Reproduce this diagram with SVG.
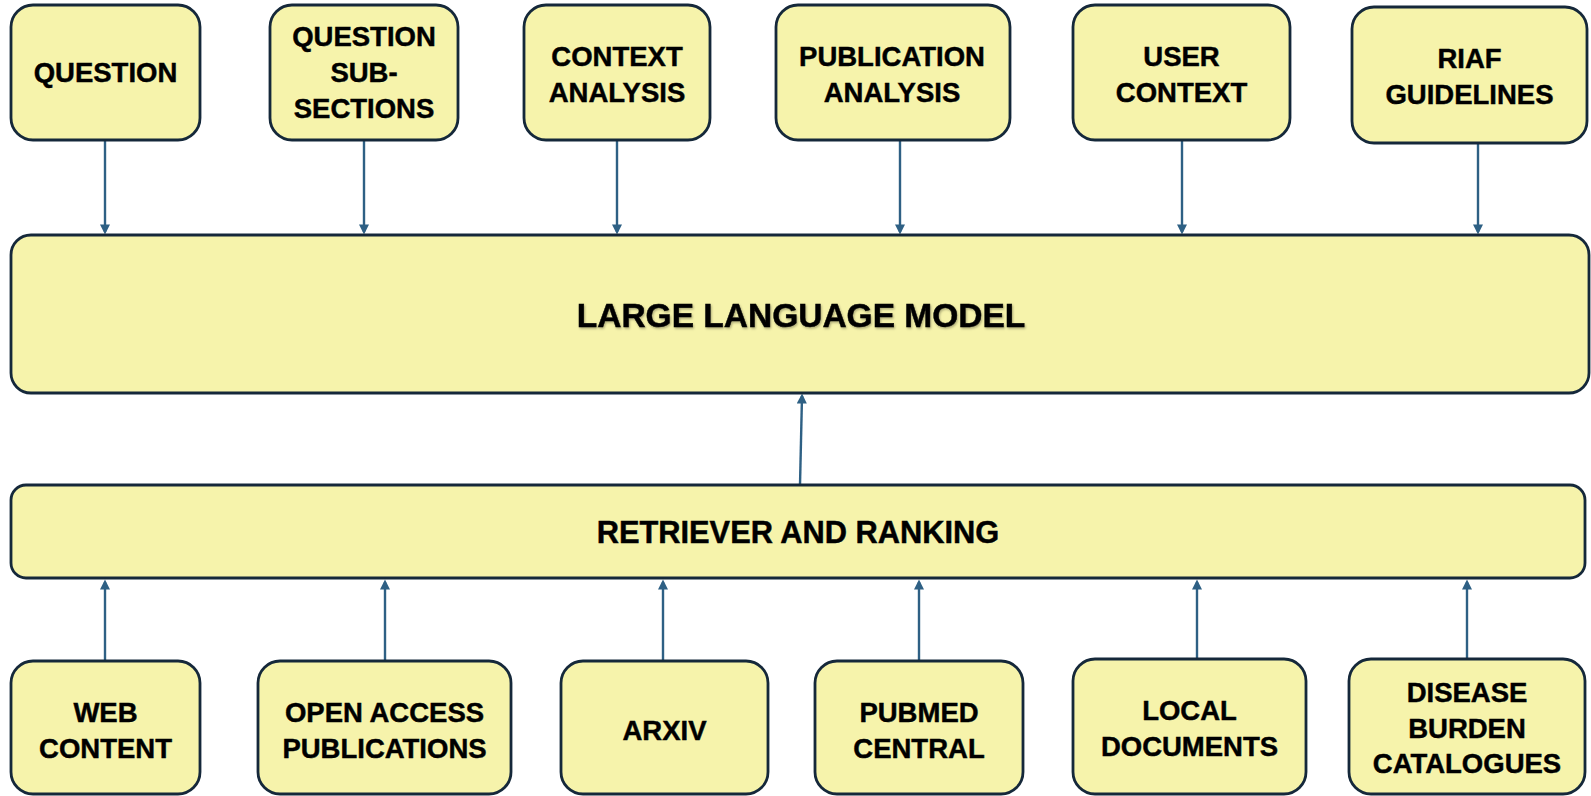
<svg xmlns="http://www.w3.org/2000/svg" width="1591" height="796" viewBox="0 0 1591 796">
<defs>
<style>
.box{fill:#f6f3ab;stroke:#15283a;stroke-width:2.8}
.lbl{font-family:"Liberation Sans",Arial,sans-serif;font-weight:bold;font-size:27.5px;fill:#000;stroke:#000;stroke-width:0.45;text-anchor:middle}
.big{font-size:33.5px}
.mid{font-size:30.8px}
.conn line{stroke:#2e6084;stroke-width:2.4;fill:none}
</style>
<marker id="ah" viewBox="0 0 10 10" refX="7.5" refY="5" markerWidth="12" markerHeight="10" markerUnits="userSpaceOnUse" orient="auto">
<path d="M0,0 L10,5 L0,10 z" fill="#2e6084"/>
</marker>
<filter id="sh" x="-5%" y="-30%" width="110%" height="160%">
<feDropShadow dx="1" dy="1.5" stdDeviation="1.2" flood-color="#000" flood-opacity="0.3"/>
</filter>
</defs>
<rect width="1591" height="796" fill="#ffffff"/>

<g class="conn" marker-end="url(#ah)">
<line x1="105" y1="140" x2="105" y2="232"/>
<line x1="364" y1="140" x2="364" y2="232"/>
<line x1="617" y1="140" x2="617" y2="232"/>
<line x1="900" y1="140" x2="900" y2="232"/>
<line x1="1182" y1="140" x2="1182" y2="232"/>
<line x1="1478" y1="143" x2="1478" y2="232"/>
<line x1="800" y1="485" x2="802" y2="396"/>
<line x1="105" y1="661" x2="105" y2="582"/>
<line x1="385" y1="661" x2="385" y2="582"/>
<line x1="663" y1="661" x2="663" y2="582"/>
<line x1="919" y1="661" x2="919" y2="582"/>
<line x1="1197" y1="659" x2="1197" y2="582"/>
<line x1="1467" y1="659" x2="1467" y2="582"/>
</g>

<g id="question">
<rect class="box" x="11" y="5" width="189" height="135" rx="22"/>
<text class="lbl" x="105.5" y="82">QUESTION</text>
</g>
<g id="question-subsections">
<rect class="box" x="270" y="5" width="188" height="135" rx="22"/>
<text class="lbl" x="364" y="45.5">QUESTION</text>
<text class="lbl" x="364" y="81.5">SUB-</text>
<text class="lbl" x="364" y="117.5">SECTIONS</text>
</g>
<g id="context-analysis">
<rect class="box" x="524" y="5" width="186" height="135" rx="22"/>
<text class="lbl" x="617" y="65.5">CONTEXT</text>
<text class="lbl" x="617" y="102">ANALYSIS</text>
</g>
<g id="publication-analysis">
<rect class="box" x="776" y="5" width="234" height="135" rx="22"/>
<text class="lbl" x="892" y="65.5">PUBLICATION</text>
<text class="lbl" x="892" y="102">ANALYSIS</text>
</g>
<g id="user-context">
<rect class="box" x="1073" y="5" width="217" height="135" rx="22"/>
<text class="lbl" x="1181.5" y="65.5">USER</text>
<text class="lbl" x="1181.5" y="102">CONTEXT</text>
</g>
<g id="riaf-guidelines">
<rect class="box" x="1352" y="7" width="235" height="136" rx="22"/>
<text class="lbl" x="1469.5" y="67.5">RIAF</text>
<text class="lbl" x="1469.5" y="103.5">GUIDELINES</text>
</g>

<g id="llm">
<rect class="box" x="11" y="235" width="1578" height="158" rx="20"/>
<text class="lbl big" x="801" y="326.5" filter="url(#sh)">LARGE LANGUAGE MODEL</text>
</g>
<g id="retriever">
<rect class="box" x="11" y="485" width="1574" height="93" rx="15"/>
<text class="lbl mid" x="798" y="542.5">RETRIEVER AND RANKING</text>
</g>

<g id="web-content">
<rect class="box" x="11" y="661" width="189" height="133" rx="22"/>
<text class="lbl" x="105.5" y="722">WEB</text>
<text class="lbl" x="105.5" y="758">CONTENT</text>
</g>
<g id="open-access">
<rect class="box" x="258" y="661" width="253" height="133" rx="22"/>
<text class="lbl" x="384.5" y="722">OPEN ACCESS</text>
<text class="lbl" x="384.5" y="758">PUBLICATIONS</text>
</g>
<g id="arxiv">
<rect class="box" x="561" y="661" width="207" height="133" rx="22"/>
<text class="lbl" x="664.5" y="739.5">ARXIV</text>
</g>
<g id="pubmed-central">
<rect class="box" x="815" y="661" width="208" height="133" rx="22"/>
<text class="lbl" x="919" y="722">PUBMED</text>
<text class="lbl" x="919" y="758">CENTRAL</text>
</g>
<g id="local-documents">
<rect class="box" x="1073" y="659" width="233" height="135" rx="22"/>
<text class="lbl" x="1189.5" y="719.5">LOCAL</text>
<text class="lbl" x="1189.5" y="755.5">DOCUMENTS</text>
</g>
<g id="disease-burden">
<rect class="box" x="1349" y="659" width="236" height="135" rx="22"/>
<text class="lbl" x="1467" y="702">DISEASE</text>
<text class="lbl" x="1467" y="737.5">BURDEN</text>
<text class="lbl" x="1467" y="773">CATALOGUES</text>
</g>
</svg>
